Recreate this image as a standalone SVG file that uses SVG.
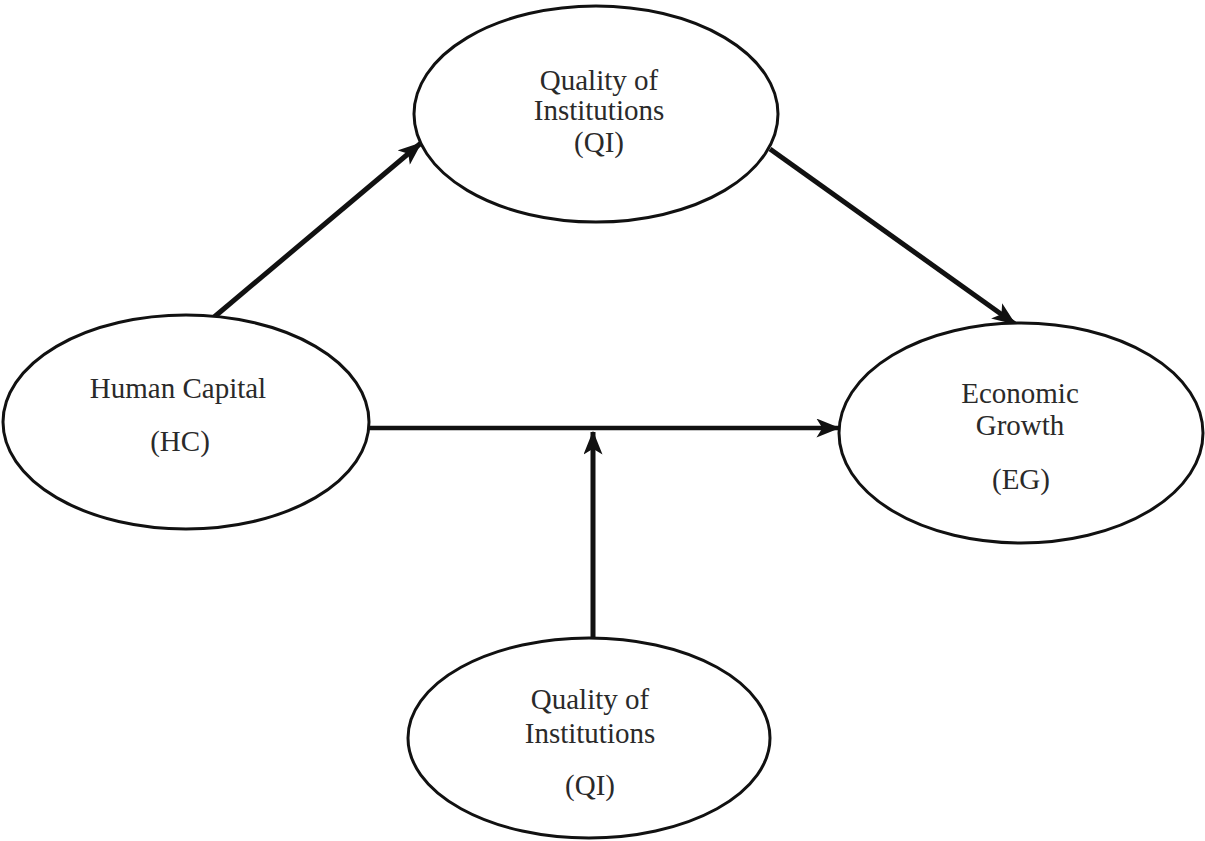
<svg xmlns="http://www.w3.org/2000/svg" width="1205" height="841" viewBox="0 0 1205 841">
<style>
.node ellipse{fill:#fff;stroke:#111;stroke-width:3}
.node text{font-family:"Liberation Serif","Times New Roman",serif;font-size:29px;fill:#2a2a2a;text-anchor:middle}
.edge{stroke:#111;stroke-width:5;fill:none;marker-end:url(#ah)}
</style>
<defs>
<marker id="ah" viewBox="0 0 20 16" refX="19" refY="8" markerWidth="24" markerHeight="19" markerUnits="userSpaceOnUse" orient="auto">
<path d="M0,0 L20,8 L0,16 L5,8 Z" fill="#111"/>
</marker>
</defs>
<rect width="1205" height="841" fill="#fff"/>
<g id="connectors">
<line class="edge" x1="213" y1="318" x2="421" y2="143"/>
<line class="edge" x1="770" y1="149" x2="1015" y2="324"/>
<line class="edge" x1="368" y1="428" x2="839" y2="428" style="stroke-width:4.5"/>
<line class="edge" x1="593" y1="639" x2="593" y2="432"/>
</g>
<g id="qi-top" class="node">
<ellipse cx="596" cy="114" rx="182" ry="108"/>
<text x="599" y="90">Quality of</text>
<text x="599" y="120">Institutions</text>
<text x="599" y="152">(QI)</text>
</g>
<g id="hc" class="node">
<ellipse cx="186" cy="422" rx="183" ry="107"/>
<text x="178" y="398">Human Capital</text>
<text x="180" y="451">(HC)</text>
</g>
<g id="eg" class="node">
<ellipse cx="1021" cy="433" rx="182" ry="110"/>
<text x="1020" y="403">Economic</text>
<text x="1020" y="435">Growth</text>
<text x="1021" y="489">(EG)</text>
</g>
<g id="qi-bottom" class="node">
<ellipse cx="589" cy="738" rx="181" ry="100"/>
<text x="590" y="709">Quality of</text>
<text x="590" y="743">Institutions</text>
<text x="590" y="795">(QI)</text>
</g>
</svg>
